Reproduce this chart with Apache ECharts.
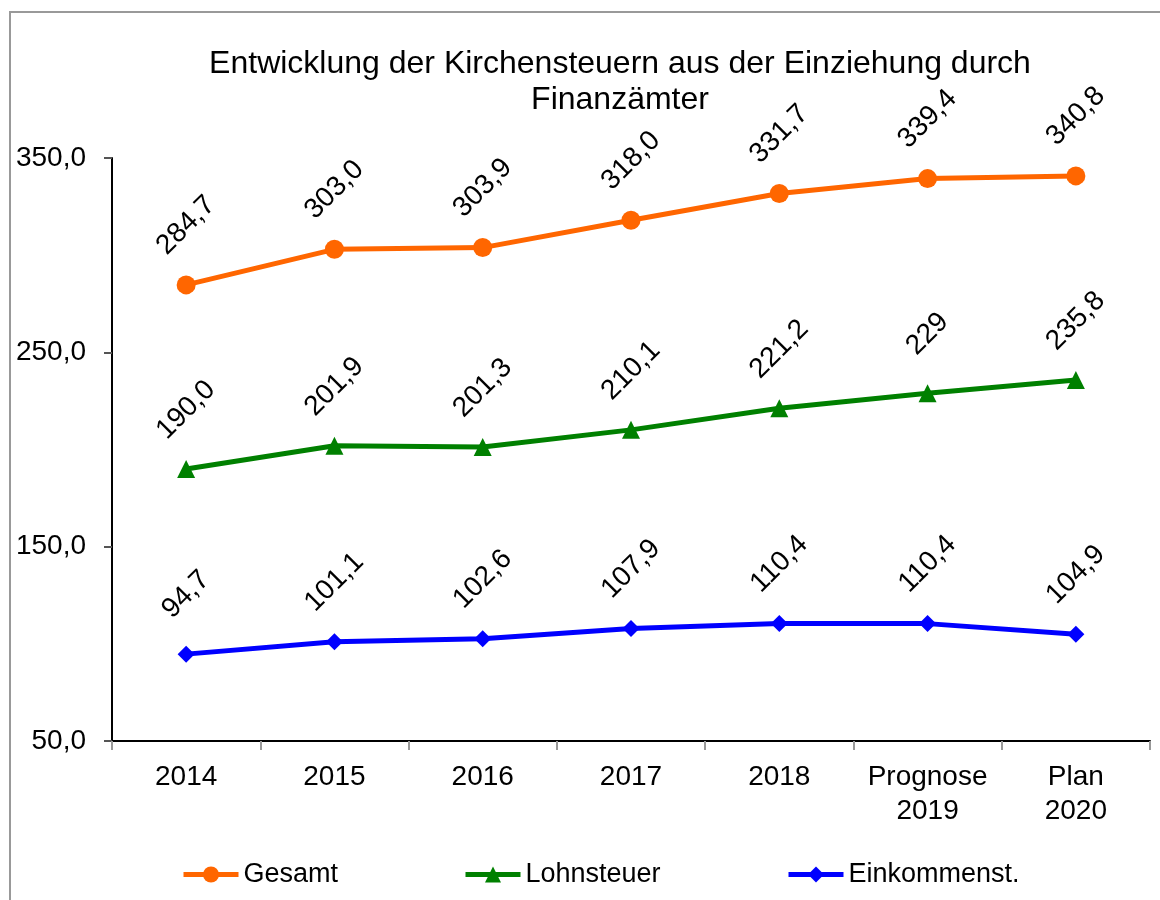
<!DOCTYPE html>
<html>
<head>
<meta charset="utf-8">
<script src="https://cdn.jsdelivr.net/npm/echarts@6/dist/echarts.min.js"></script>
<style>html,body{margin:0;padding:0;background:#fff}#c{width:1160px;height:900px}</style>
</head>
<body>
<div id="c"></div>
<script>
const categories = ['2014', '2015', '2016', '2017', '2018', 'Prognose\n2019', 'Plan\n2020'];
const gesamt = [284.7, 303.0, 303.9, 318.0, 331.7, 339.4, 340.8];
const gesamtLabels = ['284,7', '303,0', '303,9', '318,0', '331,7', '339,4', '340,8'];
const lohnsteuer = [190.0, 201.9, 201.3, 210.1, 221.2, 229, 235.8];
const lohnsteuerLabels = ['190,0', '201,9', '201,3', '210,1', '221,2', '229', '235,8'];
const einkommen = [94.7, 101.1, 102.6, 107.9, 110.4, 110.4, 104.9];
const einkommenLabels = ['94,7', '101,1', '102,6', '107,9', '110,4', '110,4', '104,9'];
const yMin = 50, yMax = 350, yStep = 100;

const font = '"Liberation Sans", Arial, sans-serif';
const chart = echarts.init(document.getElementById('c'), null, {renderer: 'canvas'});

function mkSeries(name, data, labels, color, symbol, size, dist) {
  return {
    name: name, type: 'line', data: data, symbol: symbol, symbolSize: size,
    lineStyle: {color: color, width: 5}, itemStyle: {color: color},
    label: {
      show: true, position: 'top', distance: dist, rotate: 45,
      align: 'center', verticalAlign: 'middle',
      fontFamily: font, fontSize: 28, color: '#000',
      formatter: p => labels[p.dataIndex]
    },
    z: 3
  };
}

function mkLegend(name, left) {
  return {
    left: left, top: 856, itemWidth: 55, itemHeight: 20,
    lineStyle: {width: 5},
    textStyle: {fontFamily: font, fontSize: 27, color: '#000'},
    data: [name]
  };
}

chart.setOption({
  animation: false,
  backgroundColor: '#fff',
  title: {
    text: 'Entwicklung der Kirchensteuern aus der Einziehung durch\nFinanzämter',
    left: 615, top: 41, textAlign: 'center',
    textStyle: {fontFamily: font, fontSize: 32, fontWeight: 'normal', color: '#000', lineHeight: 36}
  },
  graphic: [{
    type: 'rect', shape: {x: 10, y: 12, width: 1170, height: 900},
    style: {fill: 'none', stroke: '#999', lineWidth: 2}, silent: true
  }],
  legend: [mkLegend('Gesamt', 176), mkLegend('Lohnsteuer', 458), mkLegend('Einkommenst.', 781)],
  grid: {left: 112, right: 10, top: 158, bottom: 159, containLabel: false},
  xAxis: {
    type: 'category', data: categories, boundaryGap: true,
    axisLine: {lineStyle: {color: '#000', width: 2}},
    axisTick: {show: true, length: 9, lineStyle: {color: '#999', width: 2}},
    axisLabel: {fontFamily: font, fontSize: 28, color: '#000', margin: 19, lineHeight: 34, interval: 0}
  },
  yAxis: {
    type: 'value', min: yMin, max: yMax, interval: yStep,
    axisLine: {show: true, lineStyle: {color: '#000', width: 2}},
    axisTick: {show: true, length: 8, lineStyle: {color: '#555', width: 2}},
    splitLine: {show: false},
    axisLabel: {fontFamily: font, fontSize: 28, color: '#000', margin: 26,
      formatter: v => v.toFixed(1).replace('.', ',')}
  },
  series: [
    mkSeries('Gesamt', gesamt, gesamtLabels, '#FF6600', 'circle', 19, 50),
    mkSeries('Lohnsteuer', lohnsteuer, lohnsteuerLabels, '#008000', 'triangle', 18, 50),
    mkSeries('Einkommenst.', einkommen, einkommenLabels, '#0000FF', 'diamond', 17, 51)
  ]
});
</script>
</body>
</html>
